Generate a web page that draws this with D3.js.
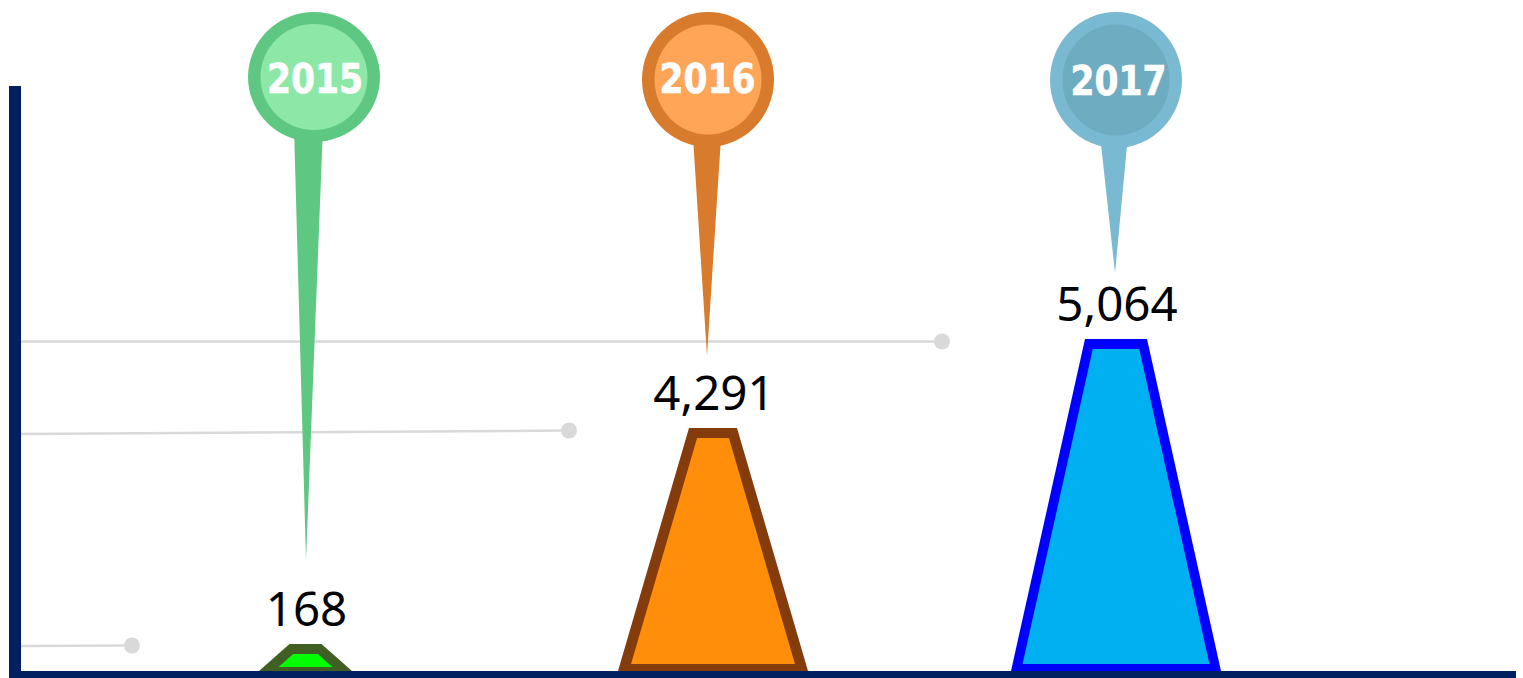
<!DOCTYPE html>
<meta charset="utf-8">
<style>

html, body {
  margin: 0;
  background: #fff;
  overflow: hidden;
}

.value {
  font-family: "Noto Sans", sans-serif;
  font-size: 47.5px;
  fill: #000;
  text-anchor: middle;
}

.year {
  font-family: "DejaVu Sans Condensed", "DejaVu Sans", sans-serif;
  font-weight: bold;
  font-size: 40px;
  fill: #fff;
  stroke: #fff;
  stroke-width: 0.6px;
  text-anchor: middle;
}

</style>
<body>
<script src="https://d3js.org/d3.v7.min.js"></script>
<script>

var years = [2015, 2016, 2017],
    values = [168, 4291, 5064];

var barFill = ["#00ff00", "#ff8f0a", "#00b0f0"],
    barEdge = ["#3f5f24", "#843c0c", "#0000ff"],
    pinOuter = ["#5ec882", "#d97b2d", "#7ab9d2"],
    pinInner = ["#8de8a8", "#ffa558", "#6eacc1"];

var width = 1523,
    height = 678,
    baseline = 671;

// the picture's bars are not to a linear scale, so the scales are pinned to each value
var y = d3.scaleLinear().domain([0, 168, 4291, 5064]).range([baseline, 644, 428, 339]),
    x = d3.scaleLinear().domain(years).range([305.5, 713, 1116]),
    baseWidth = d3.scaleLinear().domain(values).range([93, 190, 210]),
    topWidth = d3.scaleLinear().domain(values).range([32, 48, 62]);

var edgeTop = 10,
    edgeBottom = [4, 7, 7],
    edgeSide = [15, 11, 10];

var pinX = [314, 708, 1116],
    pinY = [77, 79.5, 80],
    pinRy = [65, 67.5, 68],
    innerRy = [53, 55, 55.5],
    labelX = [315, 707.5, 1118.5],
    labelY = [92.5, 93, 95],
    tipX = [306, 707, 1115],
    tipY = [560, 356, 273],
    tailX = [308.5, 707, 1114],
    leaderEnd = [132, 569, 942],
    leaderStart = [646, 434, 341.5],
    leaderStop = [645.5, 430.5, 341.5];

var svg = d3.select("body").append("svg")
    .attr("width", width)
    .attr("height", height)
    .style("display", "block");

var poly = d3.line();

// leader lines
years.forEach(function(d, i) {
  svg.append("line")
      .attr("x1", 21).attr("y1", leaderStart[i])
      .attr("x2", leaderEnd[i]).attr("y2", leaderStop[i])
      .attr("stroke", "#d9d9d9")
      .attr("stroke-width", 2.5);
  svg.append("circle")
      .attr("cx", leaderEnd[i]).attr("cy", leaderStop[i])
      .attr("r", 8)
      .attr("fill", "#d9d9d9");
});

// trapezoids
years.forEach(function(d, i) {
  var v = values[i],
      cx = x(d),
      top = y(v),
      bw = baseWidth(v) / 2,
      tw = topWidth(v) / 2,
      slope = (bw - tw) / (baseline - top);

  svg.append("path")
      .attr("d", poly([[cx - bw, baseline], [cx - tw, top], [cx + tw, top], [cx + bw, baseline]]) + "Z")
      .attr("fill", barEdge[i]);

  var innerTop = top + edgeTop,
      innerBottom = baseline - edgeBottom[i],
      a = tw + slope * edgeTop - edgeSide[i],
      b = tw + slope * (innerBottom - top) - edgeSide[i];

  svg.append("path")
      .attr("d", poly([[cx - b, innerBottom], [cx - a, innerTop], [cx + a, innerTop], [cx + b, innerBottom]]) + "Z")
      .attr("fill", barFill[i]);

  svg.append("text")
      .attr("class", "value")
      .attr("x", cx + 1)
      .attr("y", top - 18)
      .text(d3.format(",")(v));
});

// pins
years.forEach(function(d, i) {
  var g = svg.append("g");

  g.append("path")
      .attr("d", poly([[tailX[i] - 14.5, pinY[i] + 50], [tailX[i] + 14.5, pinY[i] + 50], [tipX[i], tipY[i]]]) + "Z")
      .attr("fill", pinOuter[i]);
  g.append("ellipse")
      .attr("cx", pinX[i]).attr("cy", pinY[i])
      .attr("rx", 66).attr("ry", pinRy[i])
      .attr("fill", pinOuter[i]);
  g.append("ellipse")
      .attr("cx", pinX[i]).attr("cy", pinY[i])
      .attr("rx", 53.5).attr("ry", innerRy[i])
      .attr("fill", pinInner[i]);
  g.append("text")
      .attr("class", "year")
      .attr("x", labelX[i])
      .attr("y", labelY[i])
      .attr("textLength", 96)
      .attr("lengthAdjust", "spacingAndGlyphs")
      .text(d);
});

// axes
svg.append("line")
    .attr("x1", 15).attr("x2", 15)
    .attr("y1", 86).attr("y2", height)
    .attr("stroke", "#002060")
    .attr("stroke-width", 12);
svg.append("line")
    .attr("x1", 9).attr("x2", 1516)
    .attr("y1", baseline + 3.5).attr("y2", baseline + 3.5)
    .attr("stroke", "#002060")
    .attr("stroke-width", 7);

</script>
